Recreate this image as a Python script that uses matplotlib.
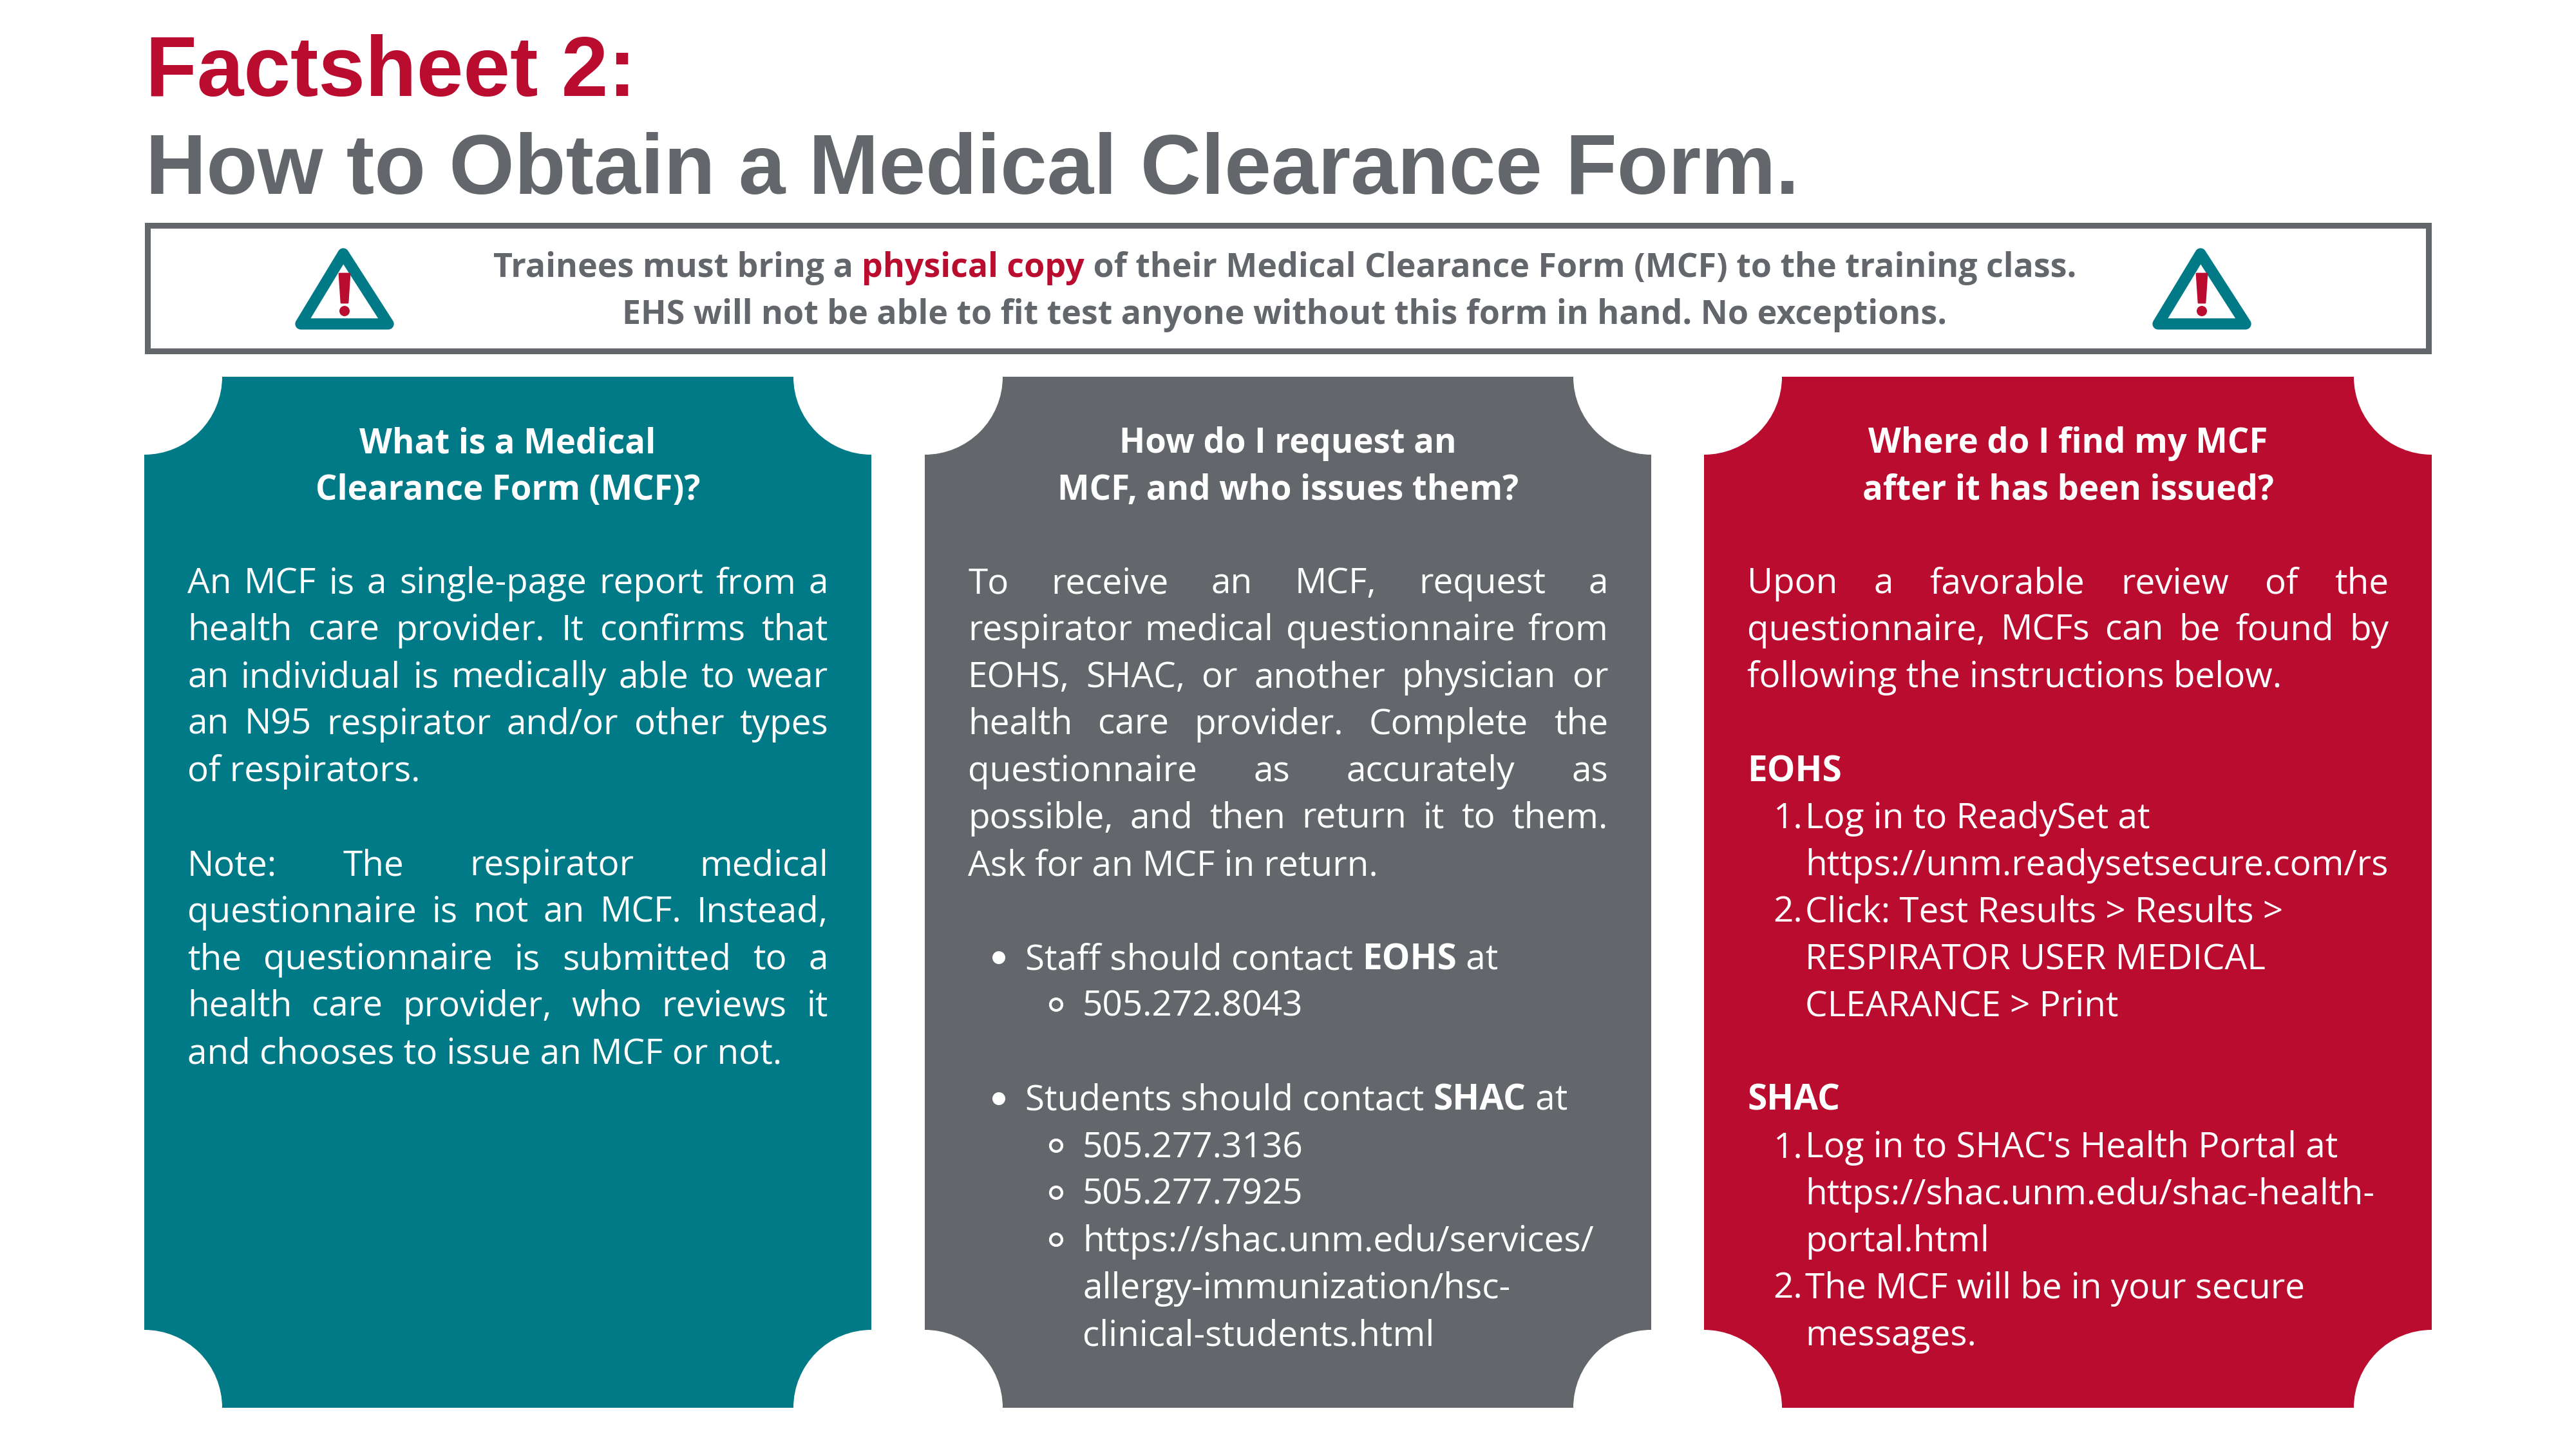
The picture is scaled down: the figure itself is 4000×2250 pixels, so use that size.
"""
Factsheet 2 - medical clearance form infographic.
Everything is placed in pixel coordinates of the 4000x2250 canvas.
"""
import matplotlib
matplotlib.use('Agg')
import matplotlib.pyplot as plt
from matplotlib.patches import Rectangle, Circle, Polygon

TEAL = '#007A86'
GREY = '#63666A'
RED = '#BA0C2F'
WHITE = '#FFFFFF'

BODY_FONT = 'Open Sans'
BODY_SIZE = 15.8
HEAD_SIZE = 15.15
NOTE_SIZE = 14.95
STEP = 73.0

TITLE_1 = 'Factsheet 2:'
TITLE_2 = 'How to Obtain a Medical Clearance Form.'

NOTICE_1 = [('Trainees must bring a ', GREY), ('physical copy', RED),
            (' of their Medical Clearance Form (MCF) to the training class.', GREY)]
NOTICE_2 = [('EHS will not be able to fit test anyone without this form in hand. No exceptions.', GREY)]

HEAD_1 = ['What is a Medical', 'Clearance Form (MCF)?']
HEAD_2 = ['How do I request an', 'MCF, and who issues them?']
HEAD_3 = ['Where do I find my MCF', 'after it has been issued?']

# (kind, text) - J justified, L left, B bullet, S sub bullet, C sub continued
# N1/N2 numbered item, T its continuation, '' blank line
BODY_1 = [
    ('J', 'An MCF is a single-page report from a'),
    ('J', 'health care provider. It confirms that'),
    ('J', 'an individual is medically able to wear'),
    ('J', 'an N95 respirator and/or other types'),
    ('L', 'of respirators.'),
    ('', ''),
    ('J', 'Note: The respirator medical'),
    ('J', 'questionnaire is not an MCF. Instead,'),
    ('J', 'the questionnaire is submitted to a'),
    ('J', 'health care provider, who reviews it'),
    ('L', 'and chooses to issue an MCF or not.'),
]
BODY_2 = [
    ('J', 'To receive an MCF, request a'),
    ('J', 'respirator medical questionnaire from'),
    ('J', 'EOHS, SHAC, or another physician or'),
    ('J', 'health care provider. Complete the'),
    ('J', 'questionnaire as accurately as'),
    ('J', 'possible, and then return it to them.'),
    ('L', 'Ask for an MCF in return.'),
    ('', ''),
    ('B', 'Staff should contact **EOHS** at'),
    ('S', '505.272.8043'),
    ('', ''),
    ('B', 'Students should contact **SHAC** at'),
    ('S', '505.277.3136'),
    ('S', '505.277.7925'),
    ('S', 'https://shac.unm.edu/services/'),
    ('C', 'allergy-immunization/hsc-'),
    ('C', 'clinical-students.html'),
]
BODY_3 = [
    ('J', 'Upon a favorable review of the'),
    ('J', 'questionnaire, MCFs can be found by'),
    ('L', 'following the instructions below.'),
    ('', ''),
    ('L', '**EOHS**'),
    ('N1', 'Log in to ReadySet at'),
    ('T', 'https://unm.readysetsecure.com/rs'),
    ('N2', 'Click: Test Results > Results >'),
    ('T', 'RESPIRATOR USER MEDICAL'),
    ('T', 'CLEARANCE > Print'),
    ('', ''),
    ('L', '**SHAC**'),
    ('N1', "Log in to SHAC's Health Portal at"),
    ('T', 'https://shac.unm.edu/shac-health-'),
    ('T', 'portal.html'),
    ('N2', 'The MCF will be in your secure'),
    ('T', 'messages.'),
]

fig = plt.figure(figsize=(16, 9), dpi=250, facecolor='white')
ax = fig.add_axes([0, 0, 1, 1])
ax.set_xlim(0, 4000)
ax.set_ylim(2250, 0)
ax.axis('off')
renderer = fig.canvas.get_renderer()


def txt(x, y, s, size=BODY_SIZE, weight='normal', color=WHITE, family=BODY_FONT, ha='left'):
    return ax.text(x, y, s, fontsize=size, fontweight=weight, color=color,
                   family=family, ha=ha, va='baseline')


def tw(s, size=BODY_SIZE, weight='normal'):
    # padded so that spaces at the ends count
    t = txt(0, 0, 'x' + s + 'x', size=size, weight=weight)
    w = t.get_window_extent(renderer).width
    t.set_text('xx')
    w -= t.get_window_extent(renderer).width
    t.remove()
    return w


def rich(x, y, s, color=WHITE):
    # ** toggles bold
    for i, part in enumerate(s.split('**')):
        if not part:
            continue
        weight = 'bold' if i % 2 else 'normal'
        txt(x, y, part, weight=weight, color=color)
        x += tw(part, weight=weight)


def justify(x0, x1, y, s):
    words = s.split()
    widths = [tw(w) for w in words]
    gap = (x1 - x0 - sum(widths)) / (len(words) - 1)
    x = x0
    for w, wd in zip(words, widths):
        txt(x, y, w)
        x += wd + gap


def panel(x0, x1, color, head, body):
    y0, y1, r = 585, 2186, 121
    ax.add_patch(Rectangle((x0, y0), x1 - x0, y1 - y0, fc=color, ec='none', zorder=0))
    for cx in (x0, x1):
        for cy in (y0, y1):
            ax.add_patch(Circle((cx, cy), r, fc=WHITE, ec='none', zorder=0.5))

    xc = (x0 + x1) / 2
    for i, line in enumerate(head):
        txt(xc, 703 + i * STEP, line, size=HEAD_SIZE, weight='bold', ha='center')

    left = x0 + 67
    right = x1 - 67
    for i, (kind, line) in enumerate(body):
        y = 921 + i * STEP
        if kind == 'J':
            justify(left, right, y, line)
        elif kind == 'L':
            rich(left, y, line)
        elif kind == 'B':
            ax.add_patch(Circle((left + 48, y - 18), 10, fc=WHITE, ec='none'))
            rich(left + 89, y, line)
        elif kind == 'S':
            ax.add_patch(Circle((left + 137, y - 18), 9, fc='none', ec=WHITE, lw=1.2))
            rich(left + 178, y, line)
        elif kind == 'C':
            rich(left + 178, y, line)
        elif kind in ('N1', 'N2'):
            txt(left + 40, y, kind[1] + '.')
            rich(left + 90, y, line)
        elif kind == 'T':
            rich(left + 90, y, line)


def warning(dx):
    ax.add_patch(Polygon([(533 + dx, 394), (467 + dx, 503), (603 + dx, 503)], closed=True,
                         fc=WHITE, ec=TEAL, lw=5.0, joinstyle='round'))
    ax.add_patch(Polygon([(527 + dx, 425), (543 + dx, 425), (540 + dx, 470), (530 + dx, 470)],
                         closed=True, fc=RED, ec=RED, lw=0.8, joinstyle='round'))
    ax.add_patch(Circle((535 + dx, 483), 8, fc=RED, ec='none'))


# title
txt(226, 149, TITLE_1, size=37.6, weight='bold', color=RED, family='Liberation Sans')
txt(226, 301, TITLE_2, size=37.6, weight='bold', color=GREY, family='Liberation Sans')

# notice box
ax.add_patch(Rectangle((229, 350), 3542, 195, fc=WHITE, ec=GREY, lw=2.6))
warning(0)
warning(2884)

x = 1995 - sum(tw(s, size=NOTE_SIZE, weight='bold') for s, c in NOTICE_1) / 2
for s, c in NOTICE_1:
    txt(x, 430, s, size=NOTE_SIZE, weight='bold', color=c)
    x += tw(s, size=NOTE_SIZE, weight='bold')
txt(1995, 503, NOTICE_2[0][0], size=NOTE_SIZE, weight='bold', color=NOTICE_2[0][1], ha='center')

panel(224, 1353, TEAL, HEAD_1, BODY_1)
panel(1436, 2564, GREY, HEAD_2, BODY_2)
panel(2646, 3776, RED, HEAD_3, BODY_3)

fig.savefig('out.png', dpi=250, facecolor='white')
